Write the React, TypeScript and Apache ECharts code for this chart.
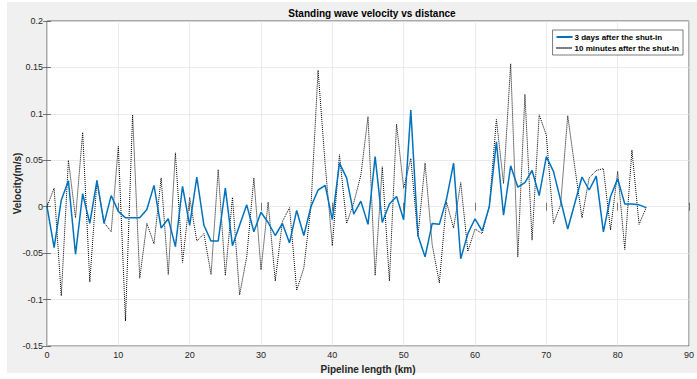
import React, { useEffect, useRef } from "react";
import * as echarts from "echarts";

const distanceKm = [
  0, 1, 2, 3, 4, 5, 6, 7, 8, 9, 10, 11, 12, 13, 14, 15, 16, 17, 18, 19, 20,
  21, 22, 23, 24, 25, 26, 27, 28, 29, 30, 31, 32, 33, 34, 35, 36, 37, 38, 39, 40,
  41, 42, 43, 44, 45, 46, 47, 48, 49, 50, 51, 52, 53, 54, 55, 56, 57, 58, 59, 60,
  61, 62, 63, 64, 65, 66, 67, 68, 69, 70, 71, 72, 73, 74, 75, 76, 77, 78, 79, 80,
  81, 82, 83, 84,
];

const threeDays = [
  0, -0.044, 0.007, 0.028, -0.051, 0.014, -0.018, 0.028, -0.018, 0.012, -0.005,
  -0.012, -0.012, -0.012, -0.003, 0.023, -0.023, -0.013, -0.043, 0.022, -0.02,
  0.032, -0.02, -0.037, -0.037, 0.02, -0.042, -0.02, 0.002, -0.027, -0.006,
  -0.017, -0.031, -0.018, -0.039, -0.004, -0.031, 0.0, 0.018, 0.023, -0.014,
  0.047, 0.031, -0.008, 0.006, -0.019, 0.054, -0.017, 0.003, 0.011, -0.014,
  0.104, -0.031, -0.054, -0.018, -0.019, 0.008, 0.047, -0.056, -0.029, -0.013,
  -0.026, 0.0, 0.07, -0.009, 0.044, 0.021, 0.026, 0.039, 0.012, 0.054,
  0.038, 0.007, -0.024, 0.004, 0.032, 0.018, 0.033, -0.027, 0.011, 0.03,
  0.003, 0.003, 0.002, -0.001,
];

const tenMinutes = [
  0, 0.02, -0.096, 0.05, -0.012, 0.08, -0.081, 0.028, -0.017, -0.027, 0.065,
  -0.123, 0.099, -0.077, -0.018, -0.04, 0.031, -0.073, 0.058, -0.06, 0.01,
  -0.037, -0.029, -0.073, 0.04, -0.074, 0.01, -0.095, -0.054, 0.031, -0.068,
  0.005, -0.08, -0.016, -0.001, -0.09, -0.066, 0.0, 0.147, 0.045, -0.042,
  0.056, -0.018, 0.004, 0.034, 0.097, -0.074, 0.043, -0.08, 0.089, 0.02,
  0.052, -0.032, 0.047, -0.041, -0.082, 0.005, -0.023, 0.026, -0.048, -0.024,
  -0.029, 0.0, 0.094, 0.025, 0.154, -0.054, 0.121, -0.036, 0.099, 0.077,
  -0.018, 0.002, 0.098, 0.042, -0.012, 0.031, 0.039, 0.041, -0.025, 0.038,
  -0.046, 0.061, -0.019, -0.001,
];

const seriesNames = ["3 days after the shut-in", "10 minutes after the shut-in"];
const chartTitle = "Standing wave velocity vs distance";
const xAxisName = "Pipeline length (km)";
const yAxisName = "Velocity(m/s)";

const FONT = "'Liberation Sans', Arial, sans-serif";
const AXIS_COLOR = "#262626";

export default function App() {
  const ref = useRef<HTMLDivElement>(null);

  useEffect(() => {
    if (!ref.current) return;
    const chart = echarts.init(ref.current, null, { renderer: "svg" });
    const pairs = (ys: number[]) => distanceKm.map((x, i) => [x, ys[i]]);
    const hiddenAxis = {
      axisLine: { show: false },
      axisLabel: { show: false },
      splitLine: { show: false },
      axisTick: { show: true, inside: true, length: 4, lineStyle: { color: AXIS_COLOR, width: 0.6 } },
    };
    chart.setOption({
      animation: false,
      backgroundColor: "#ffffff",
      graphic: [
        {
          type: "rect",
          z: -100,
          silent: true,
          shape: { x: 7, y: 2, width: 690, height: 371 },
          style: { fill: "#f0f0f0" },
        },
      ],
      title: {
        text: chartTitle,
        left: 367,
        textAlign: "center",
        top: 3,
        textStyle: { fontFamily: FONT, fontSize: 10, fontWeight: "bold", color: "#000" },
      },
      legend: {
        data: seriesNames,
        orient: "vertical",
        right: 14,
        top: 30,
        itemWidth: 16,
        itemHeight: 8,
        itemGap: 3,
        padding: [3, 4, 3, 3],
        backgroundColor: "#ffffff",
        borderColor: AXIS_COLOR,
        borderWidth: 0.6,
        borderRadius: 0,
        itemStyle: { opacity: 0 },
        textStyle: { fontFamily: FONT, fontSize: 8, fontWeight: "bold", color: "#000", padding: [0, 0, 0, -3] },
      },
      grid: {
        left: 47,
        right: 8,
        top: 21,
        bottom: 33,
        show: true,
        backgroundColor: "#ffffff",
        borderColor: AXIS_COLOR,
        borderWidth: 0.7,
        containLabel: false,
        outerBoundsMode: "none",
      },
      xAxis: [
        {
          type: "value",
          min: 0,
          max: 90,
          interval: 10,
          name: xAxisName,
          nameLocation: "middle",
          nameGap: 18,
          nameMoveOverlap: false,
          nameTextStyle: { fontFamily: FONT, fontSize: 10, fontWeight: "bold", color: "#262626" },
          axisLine: { show: false },
          axisTick: { show: true, inside: true, length: 4, lineStyle: { color: AXIS_COLOR, width: 0.6 } },
          axisLabel: { fontFamily: FONT, fontSize: 9, color: "#262626", margin: 4, showMaxLabel: true, hideOverlap: false },
          splitLine: { show: true, lineStyle: { color: "#e2e2e2", width: 0.7 } },
        },
        { type: "value", position: "top", min: 0, max: 90, interval: 10, ...hiddenAxis },
      ],
      yAxis: [
        {
          type: "value",
          min: -0.15,
          max: 0.2,
          interval: 0.05,
          name: yAxisName,
          nameLocation: "middle",
          nameGap: 25,
          nameRotate: 90,
          nameMoveOverlap: false,
          nameTextStyle: { fontFamily: FONT, fontSize: 10, fontWeight: "bold", color: "#262626" },
          axisLine: { show: false },
          axisTick: { show: true, inside: true, length: 4, lineStyle: { color: AXIS_COLOR, width: 0.6 } },
          axisLabel: {
            fontFamily: FONT,
            fontSize: 9,
            color: "#262626",
            margin: 4,
            formatter: (v: number) => String(parseFloat(v.toFixed(2))),
          },
          splitLine: { show: true, lineStyle: { color: "#e2e2e2", width: 0.7 } },
        },
        { type: "value", position: "right", min: -0.15, max: 0.2, interval: 0.05, ...hiddenAxis },
      ],
      series: [
        {
          name: seriesNames[0],
          type: "line",
          data: pairs(threeDays),
          showSymbol: false,
          symbol: "none",
          lineStyle: { color: "#0072BD", width: 1.5 },
          itemStyle: { color: "#0072BD" },
          z: 3,
        },
        {
          name: seriesNames[1],
          type: "line",
          data: pairs(tenMinutes),
          showSymbol: false,
          symbol: "none",
          lineStyle: { color: "#000000", width: 1, type: [1, 1] },
          itemStyle: { color: "#000000" },
          z: 2,
        },
      ],
    });
    return () => chart.dispose();
  }, []);

  return <div ref={ref} style={{ position: "fixed", left: 0, top: 0, width: 697, height: 379 }} />;
}
